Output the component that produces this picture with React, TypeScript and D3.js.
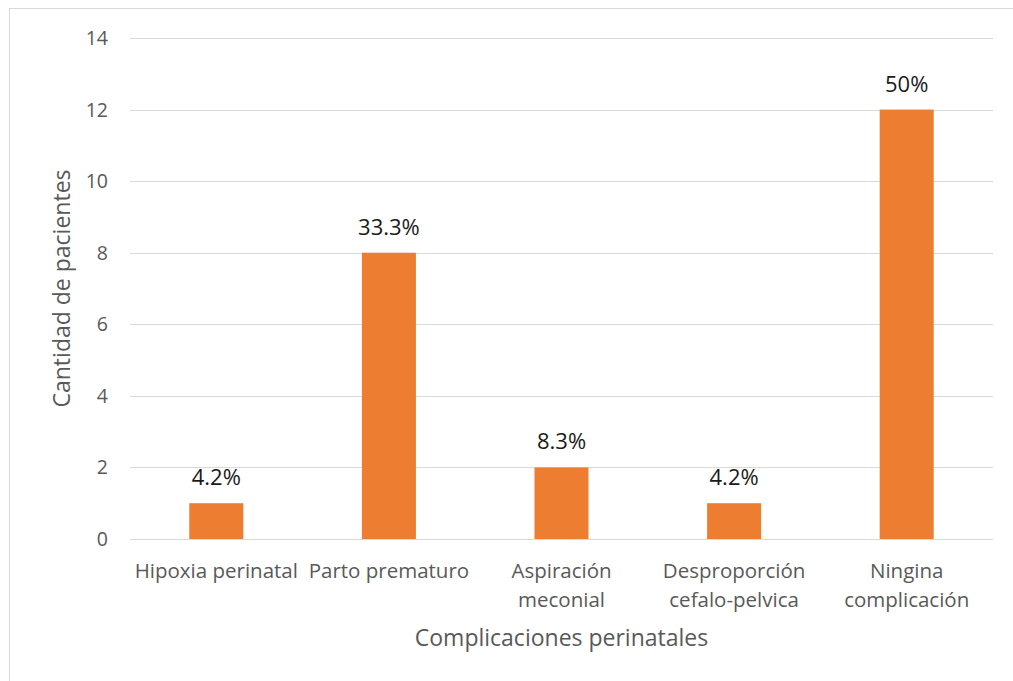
import React from "react";
import * as d3 from "d3";

const categories: string[][] = [
  ["Hipoxia perinatal"],
  ["Parto prematuro"],
  ["Aspiración", "meconial"],
  ["Desproporción", "cefalo-pelvica"],
  ["Ningina", "complicación"],
];
const values: number[] = [1, 8, 2, 1, 12];
const labels: string[] = ["4.2%", "33.3%", "8.3%", "4.2%", "50%"];
const yTicks: number[] = [0, 2, 4, 6, 8, 10, 12, 14];
const xTitle = "Complicaciones perinatales";
const yTitle = "Cantidad de pacientes";

const W = 1013;
const H = 681;
const left = 130;
const right = 993;
const top = 38;
const bottom = 539;
const FONT = "'Open Sans', sans-serif";

export default function App() {
  const keys = categories.map((c) => c.join(" "));
  const x = d3
    .scaleBand<string>()
    .domain(keys)
    .range([left, right])
    .paddingInner(0.687)
    .paddingOuter(0.687 / 2);
  const y = d3.scaleLinear().domain([0, 14]).range([bottom, top]);

  return (
    <svg
      width={W}
      height={H}
      style={{ position: "absolute", left: 0, top: 0, background: "#fff" }}
      fontFamily={FONT}
    >
      <rect x={9.5} y={8.5} width={W} height={H} fill="#fff" stroke="#D9D9D9" strokeWidth={1} />
      {yTicks.map((t) => (
        <g key={t}>
          <line x1={left} x2={right} y1={Math.round(y(t)) + 0.5} y2={Math.round(y(t)) + 0.5} stroke="#D9D9D9" strokeWidth={1} />
          <text x={108} y={y(t)} dy="0.36em" textAnchor="end" fontSize={19.5} fill="#595959">
            {t}
          </text>
        </g>
      ))}
      {values.map((v, i) => {
        const k = keys[i];
        const bx = x(k)!;
        const cx = bx + x.bandwidth() / 2;
        return (
          <g key={k}>
            <rect x={bx} y={y(v)} width={x.bandwidth()} height={y(0) - y(v)} fill="#ED7D31" />
            <text x={cx} y={y(v) - 18} textAnchor="middle" fontSize={22} fill="#1a1a1a">
              {labels[i]}
            </text>
          </g>
        );
      })}
      {categories.map((lines, i) => {
        const cx = x(keys[i])! + x.bandwidth() / 2;
        return (
          <text key={keys[i]} textAnchor="middle" fontSize={20.5} fill="#595959">
            {lines.map((l, j) => (
              <tspan key={j} x={cx} y={578 + j * 29}>
                {l}
              </tspan>
            ))}
          </text>
        );
      })}
      <text x={(left + right) / 2} y={646} textAnchor="middle" fontSize={23} fill="#595959">
        {xTitle}
      </text>
      <text
        transform={`translate(${70},${(top + bottom) / 2}) rotate(-90)`}
        textAnchor="middle"
        fontSize={23}
        fill="#595959"
      >
        {yTitle}
      </text>
    </svg>
  );
}
